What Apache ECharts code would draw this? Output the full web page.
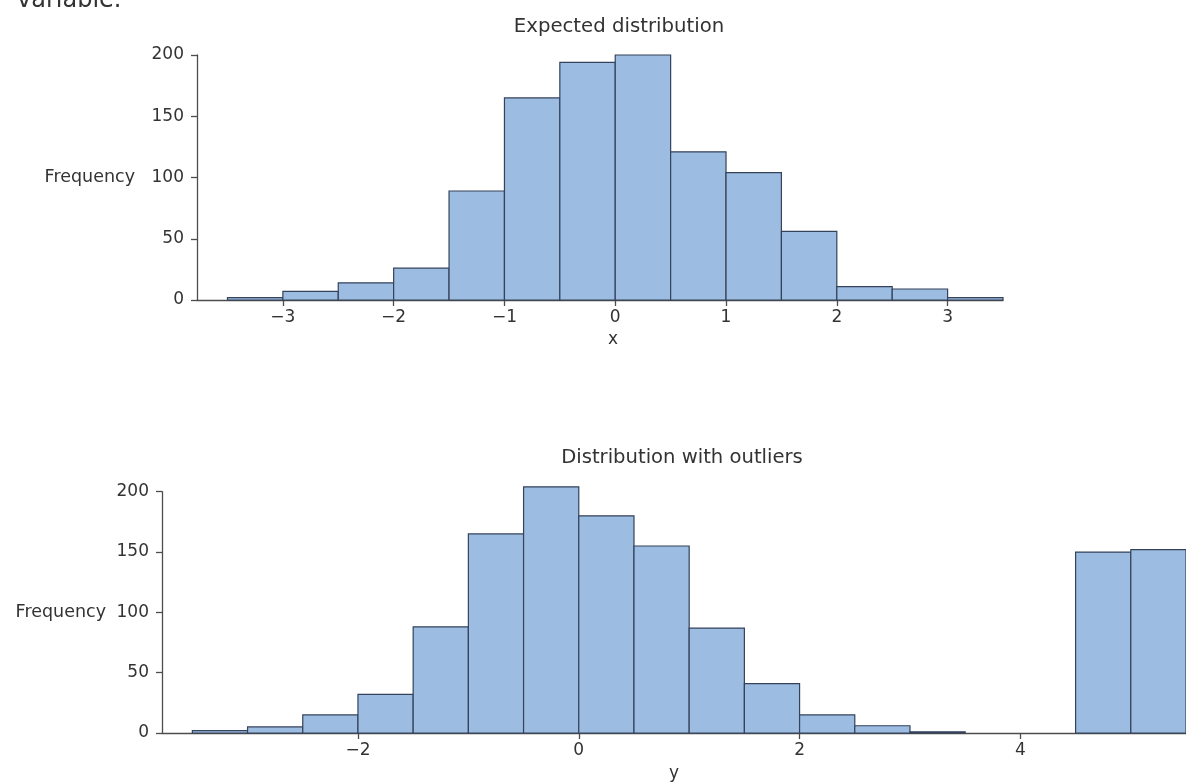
<!DOCTYPE html>
<html>
<head>
<meta charset="utf-8">
<script src="https://cdn.jsdelivr.net/npm/echarts@6/dist/echarts.min.js"></script>
<style>
html,body{margin:0;padding:0;background:#fff;}
#chart{width:1186px;height:783px;}
</style>
</head>
<body>
<div id="chart"></div>
<script>
// ---- Data ----
const topTitle = 'Expected distribution';
const bottomTitle = 'Distribution with outliers';
const topBinEdges = [-3.5, -3, -2.5, -2, -1.5, -1, -0.5, 0, 0.5, 1, 1.5, 2, 2.5, 3, 3.5];
const topCounts = [2, 7, 14, 26, 89, 165, 194, 200, 121, 104, 56, 11, 9, 2];
const bottomBinEdges = [-3.5, -3, -2.5, -2, -1.5, -1, -0.5, 0, 0.5, 1, 1.5, 2, 2.5, 3, 3.5, 4, 4.5, 5, 5.5];
const bottomCounts = [2, 5, 15, 32, 88, 165, 204, 180, 155, 87, 41, 15, 6, 1, 0, 0, 150, 152];
const topTickValues = [-3, -2, -1, 0, 1, 2, 3];
const topTickLabels = ['\u22123', '\u22122', '\u22121', '0', '1', '2', '3'];
const bottomTickValues = [-2, 0, 2, 4];
const bottomTickLabels = ['\u22122', '0', '2', '4'];
const yTickValues = [0, 50, 100, 150, 200];
const yTickLabels = ['0', '50', '100', '150', '200'];

function binsToData(edges, counts) {
  const out = [];
  for (let i = 0; i < counts.length; i++) out.push([edges[i], edges[i + 1], counts[i]]);
  return out;
}

const FONT = 'DejaVu Sans';
const TXT = '#333333';
const AX = '#4d4d4d';

function renderBin(params, api) {
  const x0 = api.value(0), x1 = api.value(1), c = api.value(2);
  if (!c) return null;
  const p0 = api.coord([x0, 0]);
  const p1 = api.coord([x1, c]);
  return {
    type: 'rect',
    shape: { x: p0[0], y: p1[1], width: p1[0] - p0[0], height: p0[1] - p1[1] },
    style: { fill: '#9dbce2', stroke: '#34425a', lineWidth: 1.2 }
  };
}

function xAxisCfg(idx, min, max, vals, labels, name, padLeft, gap) {
  return {
    type: 'value', gridIndex: idx, min: min, max: max,
    name: name, nameLocation: 'middle', nameGap: gap,
    nameTextStyle: { fontFamily: FONT, fontSize: 17, color: TXT, padding: [0, 0, 0, padLeft] },
    axisLine: { show: true, onZero: false, lineStyle: { color: AX, width: 1.3 } },
    axisTick: { show: true, customValues: vals, length: 6, lineStyle: { color: AX, width: 1.3 } },
    axisLabel: {
      customValues: vals, margin: 9, fontFamily: FONT, fontSize: 17, color: TXT,
      formatter: function (v) { const i = vals.indexOf(v); return i >= 0 ? labels[i] : ''; }
    },
    splitLine: { show: false }
  };
}

function yAxisCfg(idx, gap) {
  return {
    type: 'value', gridIndex: idx, min: 0, max: 200, interval: 50,
    name: 'Frequency', nameLocation: 'middle', nameRotate: 0, nameGap: gap,
    nameTextStyle: { fontFamily: FONT, fontSize: 17.5, color: TXT },
    axisLine: { show: true, onZero: false, lineStyle: { color: AX, width: 1.3 } },
    axisTick: { show: true, length: 6, lineStyle: { color: AX, width: 1.3 } },
    axisLabel: {
      margin: 13, fontFamily: FONT, fontSize: 17, color: TXT,
      formatter: function (v) { const i = yTickValues.indexOf(v); return i >= 0 ? yTickLabels[i] : ''; }
    },
    splitLine: { show: false }
  };
}

const chart = echarts.init(document.getElementById('chart'), null, { renderer: 'canvas' });
chart.setOption({
  backgroundColor: '#ffffff',
  animation: false,
  title: [
    { text: 'variable.', left: 12, top: -16, textStyle: { fontFamily: FONT, fontSize: 24, fontWeight: 'normal', color: '#333' } },
    { text: topTitle, left: 614, top: 12, textAlign: 'center', textStyle: { fontFamily: FONT, fontSize: 19.7, fontWeight: 'normal', color: TXT } },
    { text: bottomTitle, left: 677, top: 443, textAlign: 'center', textStyle: { fontFamily: FONT, fontSize: 19.6, fontWeight: 'normal', color: TXT } }
  ],
  grid: [
    { left: 197, right: 183, top: 55, bottom: 483, containLabel: false },
    { left: 162, right: -4.6, top: 491.7, bottom: 46.3, containLabel: false }
  ],
  xAxis: [
    xAxisCfg(0, -3.775, 3.5, topTickValues, topTickLabels, 'x', 26, 31),
    xAxisCfg(1, -3.775, 5.5, bottomTickValues, bottomTickLabels, 'y', 0, 32)
  ],
  yAxis: [yAxisCfg(0, 62), yAxisCfg(1, 56)],
  series: [
    { type: 'custom', xAxisIndex: 0, yAxisIndex: 0, renderItem: renderBin, encode: { x: [0, 1], y: 2 }, data: binsToData(topBinEdges, topCounts) },
    { type: 'custom', xAxisIndex: 1, yAxisIndex: 1, renderItem: renderBin, encode: { x: [0, 1], y: 2 }, data: binsToData(bottomBinEdges, bottomCounts) }
  ]
});
</script>
</body>
</html>
